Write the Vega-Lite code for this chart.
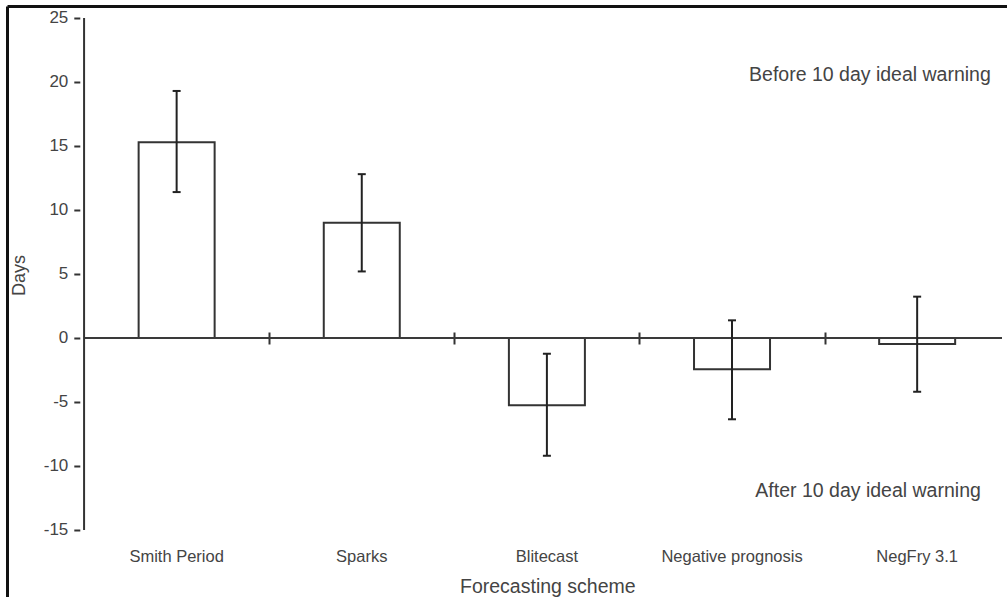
{
  "$schema": "https://vega.github.io/schema/vega-lite/v6.json",
  "width": 1000,
  "height": 591,
  "autosize": "none",
  "padding": {"left": 7, "top": 6, "right": 0, "bottom": 0},
  "background": "white",
  "config": {
    "font": "Liberation Sans",
    "view": {"stroke": null},
    "axis": {"grid": false}
  },
  "datasets": {
    "schemes": [
      {"scheme": "Smith Period", "days": 15.3, "lower": 11.4, "upper": 19.3},
      {"scheme": "Sparks", "days": 9.0, "lower": 5.2, "upper": 12.8},
      {"scheme": "Blitecast", "days": -5.25, "lower": -9.2, "upper": -1.23},
      {"scheme": "Negative prognosis", "days": -2.45, "lower": -6.35, "upper": 1.38},
      {"scheme": "NegFry 3.1", "days": -0.47, "lower": -4.2, "upper": 3.23}
    ],
    "notes": [
      {"note": "Before 10 day ideal warning", "side": "before"},
      {"note": "After 10 day ideal warning", "side": "after"}
    ],
    "one": [{}]
  },
  "data": {"name": "schemes"},
  "transform": [
    {"window": [{"op": "row_number", "as": "idx"}]}
  ],
  "resolve": {"axis": {"x": "independent", "y": "independent"}},
  "layer": [
    {
      "mark": {"type": "bar", "width": 76, "fill": "white", "stroke": "#333333", "strokeWidth": 2},
      "encoding": {
        "x": {
          "field": "idx",
          "type": "quantitative",
          "scale": {"domain": [0.1107, 5.4583], "nice": false, "zero": false},
          "axis": {
            "orient": "top",
            "offset": -338,
            "values": [1.5, 2.5, 3.5, 4.5],
            "labels": false,
            "domain": false,
            "ticks": true,
            "tickSize": 12,
            "tickWidth": 2,
            "tickColor": "#333333",
            "title": null
          }
        },
        "y": {
          "field": "days",
          "type": "quantitative",
          "scale": {"domain": [-20.2344, 25.9375], "nice": false, "zero": false},
          "axis": {
            "orient": "left",
            "offset": -72.8,
            "values": [-15, -10, -5, 0, 5, 10, 15, 20, 25],
            "labelExpr": "'' + datum.value",
            "domain": false,
            "tickSize": 6,
            "tickWidth": 2,
            "tickColor": "#333333",
            "labelFontSize": 17,
            "labelColor": "#444444",
            "labelPadding": 6,
            "title": "Days",
            "titleFontSize": 18,
            "titleFontWeight": "normal",
            "titleColor": "#444444",
            "titleAngle": -90,
            "titleAlign": "center",
            "titleBaseline": "middle",
            "titleX": -60,
            "titleY": 269
          }
        },
        "y2": {"datum": 0}
      }
    },
    {
      "data": {"name": "one"},
      "mark": {"type": "rule", "stroke": "#3a3a3a", "strokeWidth": 2},
      "encoding": {
        "x": {"datum": 0.5, "axis": null},
        "x2": {"datum": 5.4583},
        "y": {"datum": 0, "axis": null}
      }
    },
    {
      "data": {"name": "one"},
      "mark": {"type": "rule", "stroke": "#333333", "strokeWidth": 2},
      "encoding": {
        "x": {"datum": 0.5, "axis": null},
        "y": {"datum": -15, "axis": null},
        "y2": {"datum": 25}
      }
    },
    {
      "mark": {"type": "rule", "stroke": "#222222", "strokeWidth": 2},
      "encoding": {
        "x": {
          "field": "idx",
          "type": "quantitative",
          "axis": {"orient": "top", "domain": true, "domainColor": "#111111", "domainWidth": 3, "ticks": false, "labels": false, "title": null}
        },
        "y": {
          "field": "lower",
          "type": "quantitative",
          "axis": {"orient": "left", "domain": true, "domainColor": "#111111", "domainWidth": 3, "ticks": false, "labels": false, "title": null}
        },
        "y2": {"field": "upper"}
      }
    },
    {
      "mark": {"type": "tick", "orient": "horizontal", "size": 8, "thickness": 2, "color": "#222222", "opacity": 1},
      "encoding": {
        "x": {"field": "idx", "type": "quantitative", "axis": null},
        "y": {"field": "lower", "type": "quantitative", "axis": null}
      }
    },
    {
      "mark": {"type": "tick", "orient": "horizontal", "size": 8, "thickness": 2, "color": "#222222", "opacity": 1},
      "encoding": {
        "x": {"field": "idx", "type": "quantitative", "axis": null},
        "y": {"field": "upper", "type": "quantitative", "axis": null}
      }
    },
    {
      "mark": {"type": "text", "fontSize": 16.5, "fontWeight": "normal", "color": "#444444", "align": "center", "baseline": "alphabetic"},
      "encoding": {
        "x": {
          "field": "idx",
          "type": "quantitative",
          "axis": {
            "orient": "bottom",
            "labels": false,
            "ticks": false,
            "domain": false,
            "title": "Forecasting scheme",
            "titleFontSize": 19.5,
            "titleFontWeight": "normal",
            "titleColor": "#444444",
            "titleAlign": "center",
            "titleBaseline": "alphabetic",
            "titleX": 540.3,
            "titleY": -5
          }
        },
        "y": {"datum": -17.5, "axis": null},
        "text": {"field": "scheme"}
      }
    },
    {
      "data": {"name": "notes"},
      "transform": [{"filter": "datum.side == 'before'"}],
      "mark": {"type": "text", "fontSize": 19.5, "fontWeight": "normal", "color": "#444444", "align": "center", "baseline": "alphabetic"},
      "encoding": {
        "x": {"datum": 4.745, "axis": null},
        "y": {"datum": 20.1, "axis": null},
        "text": {"field": "note"}
      }
    },
    {
      "data": {"name": "notes"},
      "transform": [{"filter": "datum.side == 'after'"}],
      "mark": {"type": "text", "fontSize": 19.5, "fontWeight": "normal", "color": "#444444", "align": "center", "baseline": "alphabetic"},
      "encoding": {
        "x": {"datum": 4.735, "axis": null},
        "y": {"datum": -12.42, "axis": null},
        "text": {"field": "note"}
      }
    }
  ]
}
